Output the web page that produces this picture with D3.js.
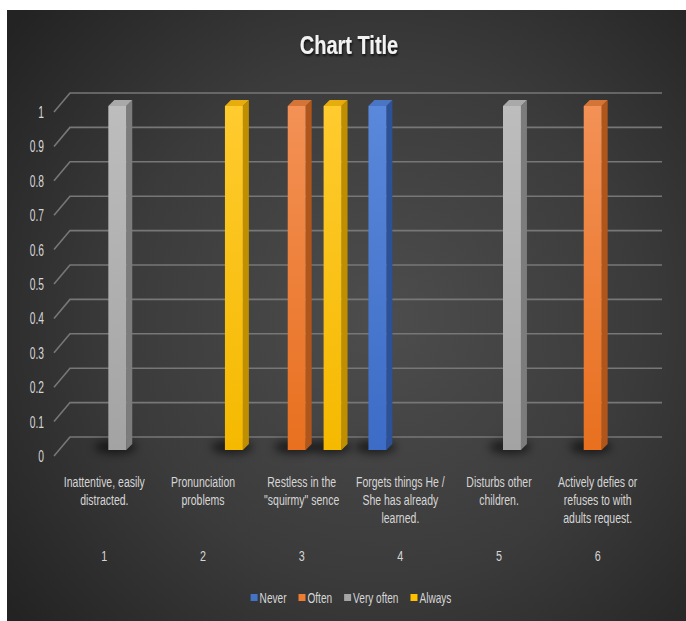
<!DOCTYPE html>
<html>
<head>
<meta charset="utf-8">
<script src="https://cdn.jsdelivr.net/npm/d3@7"></script>
<style>
  html, body { margin: 0; padding: 0; background: #ffffff; }
  svg { display: block; }
</style>
</head>
<body>
<svg id="chart" width="686" height="621"></svg>
<script>
// ---- data ----
const categories = [
  "Inattentive, easily\ndistracted.",
  "Pronunciation\nproblems",
  "Restless in the\n\"squirmy\" sence",
  "Forgets things He /\nShe has already\nlearned.",
  "Disturbs other\nchildren.",
  "Actively defies or\nrefuses to with\nadults request."
];
const categoryNumbers = ["1", "2", "3", "4", "5", "6"];
const seriesNames = ["Never", "Often", "Very often", "Always"];
const neverValues     = [0, 0, 0, 1, 0, 0];
const oftenValues     = [0, 0, 1, 0, 0, 1];
const veryOftenValues = [1, 0, 0, 0, 1, 0];
const alwaysValues    = [0, 1, 1, 0, 0, 0];
const yTicks = [0, 0.1, 0.2, 0.3, 0.4, 0.5, 0.6, 0.7, 0.8, 0.9, 1];
const chartTitle = "Chart Title";

const seriesValues = [neverValues, oftenValues, veryOftenValues, alwaysValues];

// face colours per series: [front top, front bottom, side, top]
const palette = {
  "Never":      ["#5a88da", "#3c6cc6", "#2c5196", "#4a75c4"],
  "Often":      ["#f39156", "#e8701f", "#b0561a", "#d47537"],
  "Very often": ["#bdbdbd", "#a3a3a3", "#7c7c7c", "#a9a9a9"],
  "Always":     ["#ffcb2e", "#f5b900", "#c08f00", "#e6ad0c"]
};
const legendColors = { "Never": "#4472c4", "Often": "#ed7d31", "Very often": "#a5a5a5", "Always": "#ffc000" };

const svg = d3.select("#chart");
const defs = svg.append("defs");

// ---- background ----
const bg = defs.append("radialGradient").attr("id", "bgGrad")
  .attr("gradientUnits", "userSpaceOnUse")
  .attr("cx", 380).attr("cy", 320).attr("r", 470);
bg.append("stop").attr("offset", "0%").attr("stop-color", "#4d4d4d");
bg.append("stop").attr("offset", "55%").attr("stop-color", "#3b3b3b");
bg.append("stop").attr("offset", "100%").attr("stop-color", "#232323");
svg.append("rect").attr("x", 7).attr("y", 10).attr("width", 679).attr("height", 611)
  .attr("fill", "url(#bgGrad)");

const shadowBlur = defs.append("filter").attr("id", "barShadow")
  .attr("x", "-100%").attr("y", "-100%").attr("width", "300%").attr("height", "300%");
shadowBlur.append("feGaussianBlur").attr("stdDeviation", 4);

const titleShadow = defs.append("filter").attr("id", "titleShadow")
  .attr("x", "-20%").attr("y", "-40%").attr("width", "140%").attr("height", "180%");
titleShadow.append("feDropShadow").attr("dx", 1).attr("dy", 2)
  .attr("stdDeviation", 1.2).attr("flood-color", "#000").attr("flood-opacity", 0.75);

seriesNames.forEach((s, i) => {
  const g = defs.append("linearGradient").attr("id", "front" + i)
    .attr("x1", 0).attr("y1", 0).attr("x2", 0).attr("y2", 1);
  g.append("stop").attr("offset", "0%").attr("stop-color", palette[s][0]);
  g.append("stop").attr("offset", "100%").attr("stop-color", palette[s][1]);
});

// ---- geometry ----
const wallLeft = 70, wallRight = 662;       // back wall extent
const depthDX = 16, depthDY = 19;           // floor depth (back wall -> front edge)
const planeDX = -11, planeDY = 13;          // bar plane relative to back wall
const barDepth = 6;                          // bar's own depth offset

const yBack = d3.scaleLinear().domain([0, 1]).range([437, 93]);
const yBar = v => yBack(v) + planeDY;

const xCat = d3.scaleBand().domain(d3.range(categories.length))
  .range([wallLeft + planeDX, wallRight + planeDX]).paddingInner(0).paddingOuter(0);
const xSeries = d3.scaleBand().domain(d3.range(seriesNames.length))
  .range([0, xCat.bandwidth()]).paddingInner(0).paddingOuter(0.75);
// label positions sit on the front plane of the floor
const xLabel = d3.scaleBand().domain(d3.range(categories.length))
  .range([wallLeft - depthDX + 1, wallRight - depthDX + 1]);

const labelFont = "'Liberation Sans', Arial, sans-serif";

// text helper: horizontally condensed text
function condensedText(parent, x, y, str, opts) {
  const g = parent.append("g")
    .attr("transform", `translate(${x},${y}) scale(${opts.sx || 1},1)`);
  return g.append("text")
    .attr("x", 0).attr("y", 0)
    .attr("text-anchor", opts.anchor || "middle")
    .attr("font-family", labelFont)
    .attr("font-size", opts.size || 14)
    .attr("font-weight", opts.weight || "normal")
    .attr("fill", opts.fill || "#d6d6d6")
    .text(str);
}

// ---- gridlines (back wall + left side) ----
const grid = svg.append("g").attr("stroke", "#777777").attr("stroke-width", 1.6).attr("fill", "none");
yTicks.forEach(t => {
  const y = yBack(t);
  grid.append("path")
    .attr("d", `M${wallLeft - depthDX},${y + depthDY} L${wallLeft},${y} L${wallRight},${y}`);
});

// y tick labels
const yAxisG = svg.append("g");
yTicks.forEach(t => {
  condensedText(yAxisG, 44, yBack(t) + depthDY + 6, d3.format("~g")(t),
    { anchor: "end", size: 16, sx: 0.64 });
});

// ---- bars ----
const barsG = svg.append("g");
const bars = [];
seriesValues.forEach((vals, k) => {
  vals.forEach((v, c) => {
    if (v > 0) bars.push({ k, c, v });
  });
});

// soft floor shadows
bars.forEach(b => {
  const x = xCat(b.c) + xSeries(b.k);
  const w = xSeries.bandwidth();
  barsG.append("ellipse")
    .attr("cx", x + w / 2 - 2).attr("cy", yBar(0) - 3)
    .attr("rx", w * 1.15).attr("ry", 7)
    .attr("fill", "#000").attr("opacity", 0.55)
    .attr("filter", "url(#barShadow)");
});

bars.forEach(b => {
  const x = xCat(b.c) + xSeries(b.k);
  const w = xSeries.bandwidth();
  const yt = yBar(b.v), yb = yBar(0);
  const d = barDepth;
  const col = palette[seriesNames[b.k]];
  const g = barsG.append("g");
  // side face
  g.append("path")
    .attr("d", `M${x + w},${yt} L${x + w + d},${yt - d} L${x + w + d},${yb - d} L${x + w},${yb} Z`)
    .attr("fill", col[2]);
  // top face
  g.append("path")
    .attr("d", `M${x},${yt} L${x + d},${yt - d} L${x + w + d},${yt - d} L${x + w},${yt} Z`)
    .attr("fill", col[3]);
  // front face
  g.append("rect")
    .attr("x", x).attr("y", yt).attr("width", w).attr("height", yb - yt)
    .attr("fill", `url(#front${b.k})`);
});

// ---- category axis (two levels) ----
const xAxisG = svg.append("g");
categories.forEach((label, c) => {
  const cx = xLabel(c) + xLabel.bandwidth() / 2;
  label.split("\n").forEach((line, i) => {
    condensedText(xAxisG, cx, 487 + i * 18, line, { size: 15, sx: 0.7 });
  });
  condensedText(xAxisG, cx, 561, categoryNumbers[c], { size: 15, sx: 0.72 });
});

// ---- title ----
const titleG = svg.append("g").attr("transform", "translate(349,54) scale(0.8,1)");
titleG.append("text")
  .attr("x", 0).attr("y", 0)
  .attr("text-anchor", "middle")
  .attr("font-family", labelFont)
  .attr("font-size", 25)
  .attr("font-weight", "bold")
  .attr("fill", "#f2f2f2")
  .attr("filter", "url(#titleShadow)")
  .text(chartTitle);

// ---- legend ----
const legendG = svg.append("g");
const items = [];
const legendSx = 0.72;
seriesNames.forEach(s => {
  const itemG = legendG.append("g");
  itemG.append("rect").attr("x", 0).attr("y", -4).attr("width", 7).attr("height", 7)
    .attr("fill", legendColors[s]);
  const t = condensedText(itemG, 9, 5, s, { anchor: "start", size: 14, sx: legendSx });
  const tw = t.node().getComputedTextLength() * legendSx;
  items.push({ g: itemG, w: 9 + tw });
});
const gap = 12;
const total = d3.sum(items, d => d.w) + gap * (items.length - 1);
let lx = 351 - total / 2;
items.forEach(it => {
  it.g.attr("transform", `translate(${lx},598)`);
  lx += it.w + gap;
});
</script>
</body>
</html>
